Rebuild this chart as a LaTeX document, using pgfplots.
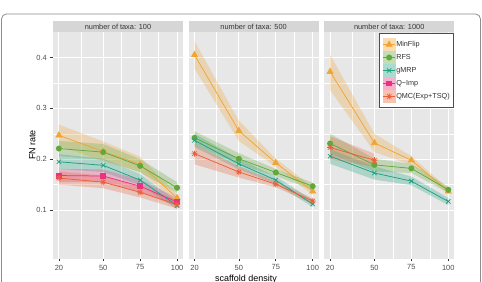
\documentclass[border=0pt]{standalone}
\usepackage{pgfplots}
\pgfplotsset{compat=1.18}
\usepackage{fontspec}
\setmainfont{Liberation Sans}

\definecolor{panelbg}{HTML}{E6E7E6}
\definecolor{stripbg}{HTML}{D6D6D6}
\definecolor{striptext}{HTML}{333333}
\definecolor{labgray}{HTML}{4D4D4D}
\definecolor{tickgray}{HTML}{333333}
\definecolor{framegray}{HTML}{8C8C8C}
\definecolor{cMin}{HTML}{F0A535}
\definecolor{cRFS}{HTML}{62A93A}
\definecolor{cGM}{HTML}{20A080}
\definecolor{cQI}{HTML}{EA3380}
\definecolor{cQMC}{HTML}{EC5F38}

\pgfdeclareplotmark{ast8}{%
  \pgfpathmoveto{\pgfqpoint{-\pgfplotmarksize}{0pt}}\pgfpathlineto{\pgfqpoint{\pgfplotmarksize}{0pt}}%
  \pgfpathmoveto{\pgfqpoint{0pt}{-\pgfplotmarksize}}\pgfpathlineto{\pgfqpoint{0pt}{\pgfplotmarksize}}%
  \pgfpathmoveto{\pgfqpoint{-0.707\pgfplotmarksize}{-0.707\pgfplotmarksize}}\pgfpathlineto{\pgfqpoint{0.707\pgfplotmarksize}{0.707\pgfplotmarksize}}%
  \pgfpathmoveto{\pgfqpoint{-0.707\pgfplotmarksize}{0.707\pgfplotmarksize}}\pgfpathlineto{\pgfqpoint{0.707\pgfplotmarksize}{-0.707\pgfplotmarksize}}%
  \pgfusepathqstroke}

\pgfplotsset{
  panel/.style={
    scale only axis, width=130bp, height=226.5bp,
    xmin=16, xmax=104, ymin=0.005, ymax=0.45,
    clip=false,
    axis background/.style={fill=panelbg},
    axis line style={draw=none},
    xtick={20,50,75,100}, ytick={0.1,0.2,0.3,0.4},
    minor xtick={35,62.5,87.5}, minor ytick={0.15,0.25,0.35},
    grid=both,
    major grid style={white, line width=0.9bp},
    minor grid style={white, line width=0.4bp},
    tick align=outside, major tick length=2.8bp, minor tick length=0pt,
    tick pos=left,
    tick style={tickgray, line width=0.55bp},
    /pgf/number format/assume math mode=true,
    ticklabel style={font=\fontsize{7.5}{9}\selectfont, text=labgray},
    yticklabel style={/pgf/number format/fixed, /pgf/number format/precision=1, /pgf/number format/fixed zerofill},
  },
  band/.style={fill=#1, fill opacity=0.28, draw=none, forget plot},
  lMin/.style={cMin, line width=0.75bp, mark=triangle*, mark size=3.4bp, mark options={solid, fill=cMin, draw=cMin}},
  lRFS/.style={cRFS, line width=0.75bp, mark=*, mark size=2.6bp, mark options={solid, fill=cRFS, draw=cRFS}},
  lGM/.style={cGM, line width=0.75bp, mark=x, mark size=3bp, mark options={solid, line width=0.75bp}},
  lQI/.style={cQI, line width=0.75bp, mark=square*, mark size=2.4bp, mark options={solid, fill=cQI, draw=cQI}},
  lQMC/.style={cQMC, line width=0.75bp, mark=ast8, mark size=3.1bp, mark options={solid, line width=0.7bp}},
}

\newcommand{\legkey}[2]{\addlegendimage{#2, legend image code/.code={%
  \fill[#1!38!white] (0bp,-6.1bp) rectangle (12.4bp,6.1bp);
  \draw[mark repeat=2, mark phase=2] plot coordinates {(0bp,0bp) (6.2bp,0bp) (12.4bp,0bp)};}}}

\begin{document}
\begin{tikzpicture}
\path[use as bounding box, clip] (0bp,0bp) rectangle (482bp,282bp);
\draw[framegray, line width=0.8bp, rounded corners=5bp] (1.5bp,-10bp) rectangle (480.5bp,268bp);

% ---------- panel 1: 100 taxa ----------
\begin{axis}[panel, name=p1, at={(53bp,23.5bp)}, anchor=south west]
\addplot[band=cMin] coordinates {(20,0.268) (50,0.235) (75,0.205) (100,0.131) (100,0.116) (75,0.175) (50,0.196) (20,0.226)} -- cycle;
\addplot[band=cRFS] coordinates {(20,0.236) (50,0.230) (75,0.200) (100,0.155) (100,0.134) (75,0.174) (50,0.199) (20,0.206)} -- cycle;
\addplot[band=cGM] coordinates {(20,0.210) (50,0.201) (75,0.171) (100,0.117) (100,0.102) (75,0.149) (50,0.175) (20,0.181)} -- cycle;
\addplot[band=cQI] coordinates {(20,0.181) (50,0.180) (75,0.160) (100,0.124) (100,0.108) (75,0.135) (50,0.155) (20,0.155)} -- cycle;
\addplot[band=cQMC] coordinates {(20,0.176) (50,0.168) (75,0.146) (100,0.120) (100,0.103) (75,0.125) (50,0.143) (20,0.150)} -- cycle;
\addplot[lMin, forget plot] coordinates {(20,0.247) (50,0.215) (75,0.190) (100,0.124)};
\addplot[lRFS, forget plot] coordinates {(20,0.221) (50,0.214) (75,0.187) (100,0.144)};
\addplot[lGM, forget plot] coordinates {(20,0.195) (50,0.188) (75,0.159) (100,0.109)};
\addplot[lQI, forget plot] coordinates {(20,0.168) (50,0.167) (75,0.147) (100,0.116)};
\addplot[lQMC, forget plot] coordinates {(20,0.163) (50,0.155) (75,0.135) (100,0.111)};
\end{axis}

% ---------- panel 2: 500 taxa ----------
\begin{axis}[panel, name=p2, at={(188.6bp,23.5bp)}, anchor=south west, yticklabels={}, ytick style={draw=none}]
\addplot[band=cMin] coordinates {(20,0.432) (50,0.276) (75,0.201) (100,0.145) (100,0.130) (75,0.185) (50,0.236) (20,0.378)} -- cycle;
\addplot[band=cRFS] coordinates {(20,0.255) (50,0.212) (75,0.181) (100,0.154) (100,0.140) (75,0.167) (50,0.190) (20,0.229)} -- cycle;
\addplot[band=cGM] coordinates {(20,0.250) (50,0.201) (75,0.166) (100,0.120) (100,0.106) (75,0.152) (50,0.180) (20,0.224)} -- cycle;
\addplot[band=cQMC] coordinates {(20,0.230) (50,0.186) (75,0.157) (100,0.123) (100,0.112) (75,0.145) (50,0.164) (20,0.190)} -- cycle;
\addplot[lMin, forget plot] coordinates {(20,0.405) (50,0.256) (75,0.193) (100,0.137)};
\addplot[lRFS, forget plot] coordinates {(20,0.242) (50,0.201) (75,0.174) (100,0.147)};
\addplot[lGM, forget plot] coordinates {(20,0.237) (50,0.191) (75,0.159) (100,0.112)};
\addplot[lQMC, forget plot] coordinates {(20,0.211) (50,0.175) (75,0.151) (100,0.118)};
\end{axis}

% ---------- panel 3: 1000 taxa ----------
\begin{axis}[panel, name=p3, at={(324.2bp,23.5bp)}, anchor=south west, yticklabels={}, ytick style={draw=none},
  legend style={at={(0.995,0.994)}, anchor=north east, draw=labgray, line width=0.5bp, fill=white,
    font=\fontsize{7.3}{9}\selectfont, text=striptext, inner xsep=3bp, inner ysep=4.5bp,
    row sep=0bp, cells={anchor=west}, nodes={inner sep=0.5bp}},
  legend cell align=left]
\addplot[band=cMin] coordinates {(20,0.405) (50,0.250) (75,0.206) (100,0.142) (100,0.132) (75,0.189) (50,0.214) (20,0.336)} -- cycle;
\addplot[band=cRFS] coordinates {(20,0.250) (50,0.201) (75,0.191) (100,0.146) (100,0.134) (75,0.173) (50,0.176) (20,0.211)} -- cycle;
\addplot[band=cGM] coordinates {(20,0.220) (50,0.186) (75,0.166) (100,0.124) (100,0.110) (75,0.149) (50,0.160) (20,0.191)} -- cycle;
\addplot[band=cQMC] coordinates {(20,0.245) (50,0.211) (50,0.185) (20,0.200)} -- cycle;
\addplot[lMin, forget plot] coordinates {(20,0.372) (50,0.232) (75,0.198) (100,0.137)};
\addplot[lRFS, forget plot] coordinates {(20,0.231) (50,0.189) (75,0.182) (100,0.140)};
\addplot[lGM, forget plot] coordinates {(20,0.206) (50,0.173) (75,0.157) (100,0.117)};
\addplot[lQMC, forget plot] coordinates {(20,0.223) (50,0.198)};
\legkey{cMin}{lMin}
\legkey{cRFS}{lRFS}
\legkey{cGM}{lGM}
\legkey{cQI}{lQI}
\legkey{cQMC}{lQMC}
\legend{MinFlip, RFS, gMRP, Q−Imp, QMC(Exp+TSQ)}
\end{axis}

% ---------- strips ----------
\foreach \p/\t in {p1/100, p2/500, p3/1000} {
  \fill[stripbg] (\p.north west) rectangle ([yshift=11.2bp]\p.north east);
  \node[font=\fontsize{7.4}{9}\selectfont, text=striptext, inner sep=0pt] at ([yshift=5.6bp]\p.north) {number of taxa: \t};
}

% ---------- axis titles ----------
\node[rotate=90, font=\fontsize{9}{11}\selectfont, text=black, inner sep=0pt] at (32.3bp,137bp) {FN rate};
\node[font=\fontsize{9}{11}\selectfont, text=black, inner sep=0pt, anchor=north] at (246bp,6.8bp) {scaffold density};
\end{tikzpicture}
\end{document}
